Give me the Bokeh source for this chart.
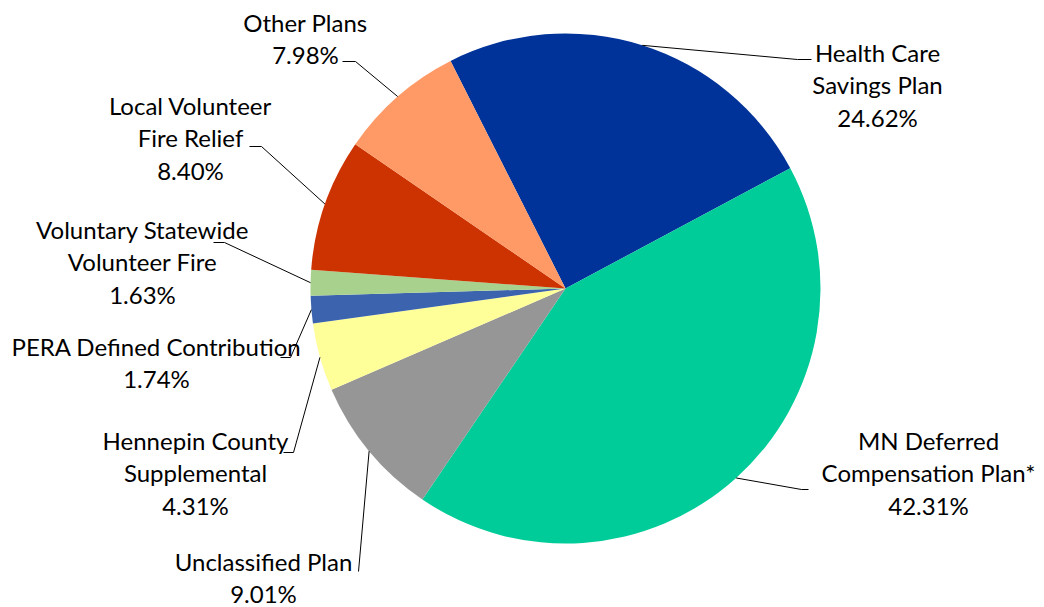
import math
from bokeh.plotting import figure
from bokeh.models import Range1d
from bokeh.core.properties import value
from bokeh.embed import file_html
from bokeh.resources import INLINE

# ---- data ----
plans = ["Health Care Savings Plan", "MN Deferred Compensation Plan*", "Unclassified Plan",
         "Hennepin County Supplemental", "PERA Defined Contribution",
         "Voluntary Statewide Volunteer Fire", "Local Volunteer Fire Relief", "Other Plans"]
shares = [24.62, 42.31, 9.01, 4.31, 1.74, 1.63, 8.40, 7.98]
label_lines = [["Health Care", "Savings Plan"], ["MN Deferred", "Compensation Plan*"],
               ["Unclassified Plan"], ["Hennepin County", "Supplemental"],
               ["PERA Defined Contribution"], ["Voluntary Statewide", "Volunteer Fire"],
               ["Local Volunteer", "Fire Relief"], ["Other Plans"]]
colors = ["#003399", "#00CC99", "#969696", "#FFFF99", "#3C64AE", "#A9D18E", "#CC3300", "#FF9966"]

# ---- layout (pixel coordinates, y measured from top) ----
W, H = 1044, 607
CX, CY, R = 565, 288, 255
START_DEG = 116.8  # first slice starts here (math angle), slices go clockwise
label_cx = [877, 928, 263, 195, 156, 142, 190, 305]
label_mid = [52, 440, 561, 440, 346, 229, 105, 22]
LINE_H = 32.3
elbow = [(797, 59), (801, 489), (358, 571), (293, 452), (290, 357), (224, 242), (261, 146), (355, 61)]
tail = [(811, 59), (808, 489), (358, 571), (283, 452), (280, 357), (213, 242), (249, 146), (342, 61)]

def Y(py):
    return H - py

p = figure(width=W, height=H, x_range=Range1d(0, W), y_range=Range1d(0, H),
           output_backend="svg", toolbar_location=None, min_border=0)
p.axis.visible = False
p.grid.visible = False
p.outline_line_color = None
p.background_fill_color = "white"

starts, ends, mids = [], [], []
a = START_DEG
for s in shares:
    span = s * 3.6
    starts.append(math.radians(a - span))
    ends.append(math.radians(a))
    mids.append(math.radians(a - span / 2))
    a -= span

p.wedge(x=[CX] * len(shares), y=[Y(CY)] * len(shares), radius=R,
        start_angle=starts, end_angle=ends, fill_color=colors, line_color=None)

# leader lines
xs, ys = [], []
for i, m in enumerate(mids):
    ex = CX + R * math.cos(m)
    ey = Y(CY) + R * math.sin(m)
    xs.append([ex, elbow[i][0], tail[i][0]])
    ys.append([ey, Y(elbow[i][1]), Y(tail[i][1])])
p.multi_line(xs=xs, ys=ys, line_color="black", line_width=1)

# labels
tx, ty, tt = [], [], []
for i in range(len(plans)):
    lines = label_lines[i] + [f"{shares[i]:.2f}%"]
    for k, ln in enumerate(lines):
        tx.append(label_cx[i])
        ty.append(Y(label_mid[i] + k * LINE_H))
        tt.append(ln)
p.text(x=tx, y=ty, text=tt, text_align="center", text_baseline="middle",
       text_font=value("Lato"), text_font_size="24px", text_color="black")

open("out.html", "w").write(file_html(p, INLINE))
